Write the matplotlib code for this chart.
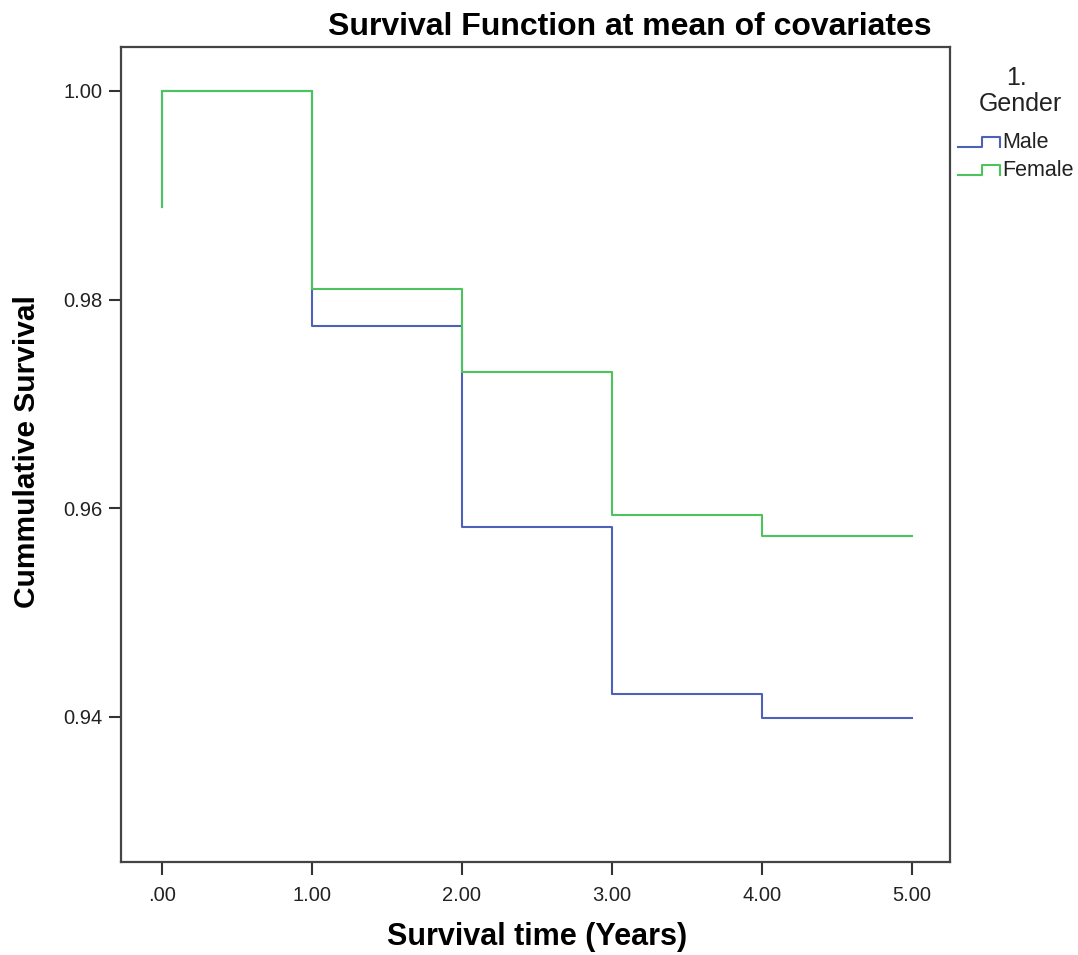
import matplotlib
matplotlib.use("Agg")
import matplotlib.pyplot as plt
from matplotlib.lines import Line2D

plt.rcParams['font.family'] = ['Liberation Sans', 'DejaVu Sans']

# survival estimates at mean of covariates (step function, post)
time_years = [0, 0, 1, 2, 3, 4, 5]
male_surv = [0.9889, 1.000, 0.9775, 0.9582, 0.9422, 0.9399, 0.9399]
female_surv = [0.9889, 1.000, 0.9810, 0.9731, 0.9594, 0.9573, 0.9573]

x_ticks = [0, 1, 2, 3, 4, 5]
x_tick_labels = ['.00', '1.00', '2.00', '3.00', '4.00', '5.00']
y_ticks = [0.94, 0.96, 0.98, 1.00]
y_tick_labels = ['0.94', '0.96', '0.98', '1.00']

male_col = '#4d62b6'
female_col = '#4cc35c'
W, H = 1078, 955

fig = plt.figure(figsize=(W / 100, H / 100), dpi=100)
ax = fig.add_axes([121 / W, 1 - 862 / H, 829 / W, 815 / H])

ax.plot(time_years, male_surv, drawstyle='steps-post', color=male_col, lw=1.5)
ax.plot(time_years, female_surv, drawstyle='steps-post', color=female_col, lw=1.5)

ax.set_xlim(-0.273, 5.253)
ax.set_ylim(0.9261, 1.0042)
ax.set_xticks(x_ticks)
ax.set_xticklabels(x_tick_labels)
ax.set_yticks(y_ticks)
ax.set_yticklabels(y_tick_labels)
ax.tick_params(axis='both', direction='out', length=9, width=1.5, color='#333333',
               labelsize=14.5, labelcolor='#222222')
ax.tick_params(axis='x', pad=8)
ax.tick_params(axis='y', pad=4)
for s in ax.spines.values():
    s.set_color('#444444')
    s.set_linewidth(1.6)

fig.text(630 / W, 1 - 27 / H, 'Survival Function at mean of covariates',
         ha='center', va='center', fontsize=23, fontweight='bold')
fig.text(537 / W, 1 - 937 / H, 'Survival time (Years)',
         ha='center', va='center', fontsize=22, fontweight='bold')
fig.text(27 / W, 1 - 452 / H, 'Cummulative Survival', rotation=90,
         ha='center', va='center', fontsize=21.5, fontweight='bold')

# legend
fig.text(1016 / W, 1 - 78 / H, '1.', ha='center', va='center', fontsize=18, color='#222222')
fig.text(1020 / W, 1 - 104 / H, 'Gender', ha='center', va='center', fontsize=18, color='#222222')
for name, col, yc in [('Male', male_col, 142), ('Female', female_col, 170)]:
    xs = [958, 982, 982, 1000, 1000]
    ys = [yc + 5, yc + 5, yc - 5, yc - 5, yc + 5]
    fig.add_artist(Line2D([v / W for v in xs], [1 - v / H for v in ys],
                          color=col, lw=1.5, transform=fig.transFigure))
    fig.text(1002 / W, 1 - yc / H, name, ha='left', va='center', fontsize=15.5, color='#222222')

fig.savefig('out.png', dpi=100)
